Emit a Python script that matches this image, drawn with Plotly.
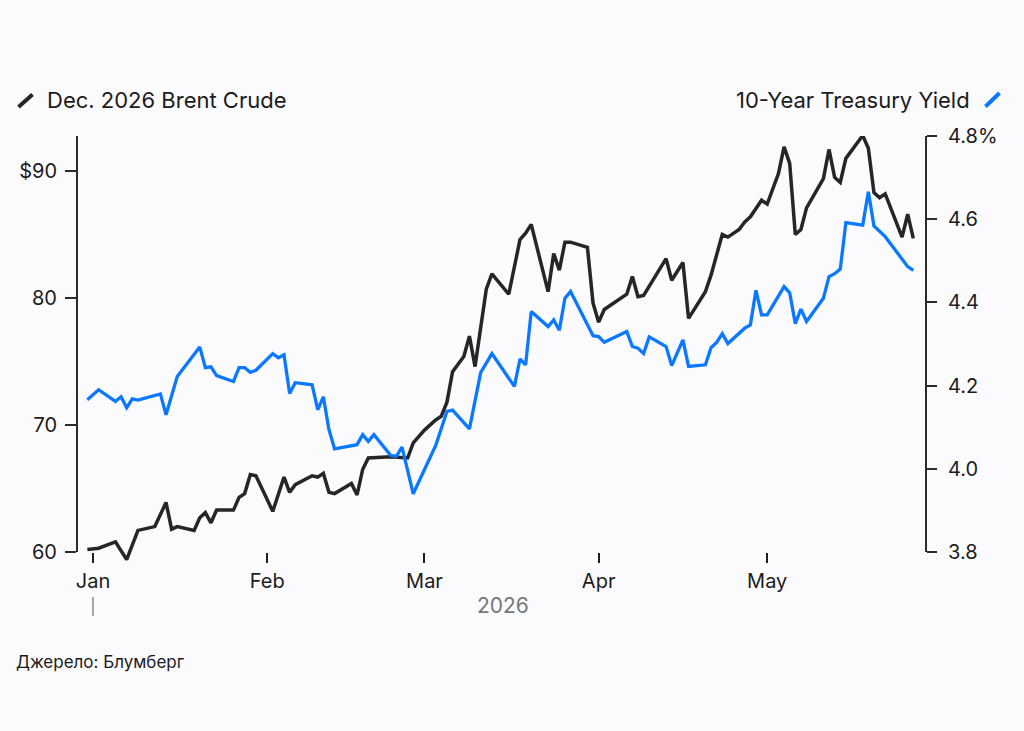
import plotly.graph_objects as go

# ---------------- data ----------------
brent_dates = [
    "2025-12-31",
    "2026-01-02", "2026-01-05", "2026-01-07", "2026-01-09", "2026-01-12", "2026-01-14",
    "2026-01-15", "2026-01-16", "2026-01-19", "2026-01-20", "2026-01-21", "2026-01-22",
    "2026-01-23", "2026-01-26", "2026-01-27", "2026-01-28", "2026-01-29", "2026-01-30",
    "2026-02-02", "2026-02-04", "2026-02-05", "2026-02-06", "2026-02-09", "2026-02-10",
    "2026-02-11", "2026-02-12", "2026-02-13", "2026-02-16", "2026-02-17", "2026-02-18",
    "2026-02-19", "2026-02-23", "2026-02-26", "2026-02-27",
    "2026-03-01", "2026-03-03", "2026-03-04", "2026-03-05", "2026-03-06", "2026-03-08",
    "2026-03-09", "2026-03-10", "2026-03-12", "2026-03-13", "2026-03-16", "2026-03-18",
    "2026-03-19", "2026-03-20", "2026-03-23", "2026-03-24", "2026-03-25", "2026-03-26",
    "2026-03-27", "2026-03-30", "2026-03-31",
    "2026-04-01", "2026-04-02", "2026-04-06", "2026-04-07", "2026-04-08", "2026-04-09",
    "2026-04-13", "2026-04-14", "2026-04-16", "2026-04-17", "2026-04-20", "2026-04-21",
    "2026-04-23", "2026-04-24", "2026-04-26", "2026-04-27", "2026-04-28", "2026-04-30",
    "2026-05-01", "2026-05-03", "2026-05-04", "2026-05-05", "2026-05-06", "2026-05-07",
    "2026-05-08", "2026-05-11", "2026-05-12", "2026-05-13", "2026-05-14", "2026-05-15",
    "2026-05-18", "2026-05-19", "2026-05-20", "2026-05-21", "2026-05-22", "2026-05-25",
    "2026-05-26", "2026-05-27",
]
brent_values = [
    60.2,
    60.3, 60.8, 59.4, 61.7, 62.0, 63.9,
    61.8, 62.0, 61.7, 62.7, 63.1, 62.3,
    63.3, 63.3, 64.3, 64.6, 66.1, 66.0,
    63.2, 65.9, 64.7, 65.3, 66.0, 65.9,
    66.2, 64.7, 64.6, 65.4, 64.5, 66.5,
    67.4, 67.5, 67.4, 68.6,
    69.6, 70.4, 70.7, 71.8, 74.2, 75.4,
    77.0, 74.6, 80.7, 81.9, 80.3, 84.6,
    85.1, 85.8, 80.5, 83.5, 82.2, 84.4,
    84.4, 84.0, 79.6,
    78.1, 79.1, 80.3, 81.7, 80.1, 80.2,
    83.1, 81.4, 82.8, 78.4, 80.5, 81.8,
    85.0, 84.8, 85.4, 86.0, 86.4, 87.7,
    87.4, 89.8, 91.9, 90.6, 85.0, 85.4,
    87.1, 89.4, 91.7, 89.5, 89.1, 91.0,
    92.8, 91.8, 88.3, 87.9, 88.2, 84.8,
    86.6, 84.7,
]

yield_dates = [
    "2025-12-31",
    "2026-01-02", "2026-01-05", "2026-01-06", "2026-01-07", "2026-01-08", "2026-01-09",
    "2026-01-13", "2026-01-14", "2026-01-15", "2026-01-16", "2026-01-20", "2026-01-21",
    "2026-01-22", "2026-01-23", "2026-01-26", "2026-01-27", "2026-01-28", "2026-01-29",
    "2026-01-30",
    "2026-02-02", "2026-02-03", "2026-02-04", "2026-02-05", "2026-02-06", "2026-02-09",
    "2026-02-10", "2026-02-11", "2026-02-12", "2026-02-13", "2026-02-17", "2026-02-18",
    "2026-02-19", "2026-02-20", "2026-02-23", "2026-02-24", "2026-02-25", "2026-02-27",
    "2026-03-02", "2026-03-03", "2026-03-05", "2026-03-06", "2026-03-09", "2026-03-11",
    "2026-03-13", "2026-03-17", "2026-03-18", "2026-03-19", "2026-03-20", "2026-03-23",
    "2026-03-24", "2026-03-25", "2026-03-26", "2026-03-27", "2026-03-31",
    "2026-04-01", "2026-04-02", "2026-04-06", "2026-04-07", "2026-04-08", "2026-04-09",
    "2026-04-10", "2026-04-13", "2026-04-14", "2026-04-16", "2026-04-17", "2026-04-20",
    "2026-04-21", "2026-04-22", "2026-04-23", "2026-04-24", "2026-04-27", "2026-04-28",
    "2026-04-29", "2026-04-30",
    "2026-05-01", "2026-05-04", "2026-05-05", "2026-05-06", "2026-05-07", "2026-05-08",
    "2026-05-11", "2026-05-12", "2026-05-13", "2026-05-14", "2026-05-15", "2026-05-18",
    "2026-05-19", "2026-05-20", "2026-05-22", "2026-05-26", "2026-05-27",
]
yield_values = [
    4.166,
    4.190, 4.162, 4.173, 4.147, 4.168, 4.165,
    4.180, 4.130, 4.174, 4.222, 4.293, 4.243,
    4.245, 4.224, 4.210, 4.243, 4.243, 4.232,
    4.237,
    4.277, 4.267, 4.274, 4.181, 4.207, 4.202,
    4.142, 4.173, 4.094, 4.048, 4.058, 4.082,
    4.066, 4.082, 4.032, 4.030, 4.052, 3.940,
    4.029, 4.056, 4.138, 4.141, 4.096, 4.231,
    4.277, 4.198, 4.264, 4.250, 4.378, 4.342,
    4.358, 4.333, 4.410, 4.426, 4.320,
    4.318, 4.304, 4.330, 4.294, 4.290, 4.277,
    4.317, 4.294, 4.248, 4.310, 4.246, 4.250,
    4.291, 4.304, 4.325, 4.301, 4.338, 4.346,
    4.429, 4.370,
    4.370, 4.438, 4.423, 4.349, 4.384, 4.354,
    4.410, 4.462, 4.469, 4.480, 4.592, 4.586,
    4.666, 4.584, 4.558, 4.486, 4.477,
]

month_ticks = ["2026-01-01", "2026-02-01", "2026-03-01", "2026-04-01", "2026-05-01"]
month_labels = ["Jan", "Feb", "Mar", "Apr", "May"]
left_ticks = [60, 70, 80, 90]
left_labels = ["60", "70", "80", "$90"]
right_ticks = [3.8, 4.0, 4.2, 4.4, 4.6, 4.8]
right_labels = ["3.8", "4.0", "4.2", "4.4", "4.6", "4.8%"]

brent_name = "Dec. 2026 Brent Crude"
yield_name = "10-Year Treasury Yield"
source_text = "Джерело: Блумберг"
year_text = "2026"

# ---------------- layout constants ----------------
W, H = 1024, 731
ML, MR, MT, MB = 78, 99, 136, 150
PW = W - ML - MR
PH = H - MT - MB
PLOT_BOTTOM = H - MB          # bottom of the (extended) drawing area
AXIS_BOTTOM = 552             # where the visible axes end
X_RANGE = ["2025-12-29 08:00", "2026-05-29 02:00"]
LEFT_RANGE = [60, 92.76]
RIGHT_RANGE = [3.8, 4.8]

def px(x):
    return (x - ML) / PW

def py(y):
    return (PLOT_BOTTOM - y) / PH

AX_DOMAIN = [py(AXIS_BOTTOM), 1]
units_per_px = (LEFT_RANGE[1] - LEFT_RANGE[0]) / (AXIS_BOTTOM - MT)
brent_range = [LEFT_RANGE[0] - (PLOT_BOTTOM - AXIS_BOTTOM) * units_per_px, LEFT_RANGE[1]]

BG = "#fbfafd"
INK = "#1c1c1c"
AX = "#2b2b2b"
BLACK = "#262626"
BLUE = "#0a78ff"
FONT = "Inter, Roboto, Arial, sans-serif"

fig = go.Figure()
# blue yield line on its own subplot (x3 / y2, right-hand axis)
fig.add_trace(go.Scatter(
    x=yield_dates, y=yield_values, mode="lines", name=yield_name,
    line=dict(color=BLUE, width=3.3), xaxis="x3", yaxis="y2", hoverinfo="x+y",
))
# Brent line on an invisible axis of identical scale that extends a bit lower,
# so dips under $60 are not clipped (as in the reference)
fig.add_trace(go.Scatter(
    x=brent_dates, y=brent_values, mode="lines", name=brent_name,
    line=dict(color=BLACK, width=3.5), xaxis="x2", yaxis="y3", hoverinfo="x+y",
))

axis_font = dict(family=FONT, size=20, color=INK)

fig.update_layout(
    width=W, height=H,
    margin=dict(l=ML, r=MR, t=MT, b=MB, pad=0),
    paper_bgcolor=BG, plot_bgcolor="rgba(0,0,0,0)",
    showlegend=False,
    font=dict(family=FONT, color=INK),
    # visible month axis + left price axis
    xaxis=dict(
        type="date", range=X_RANGE, domain=[0, 1], anchor="y",
        tickmode="array", tickvals=month_ticks, ticktext=month_labels,
        ticks="outside", ticklen=10, tickwidth=1.5, tickcolor=INK,
        showline=False, showgrid=False, zeroline=False,
        tickfont=axis_font, ticklabelstandoff=1,
    ),
    yaxis=dict(
        range=LEFT_RANGE, domain=AX_DOMAIN, anchor="x",
        tickmode="array", tickvals=left_ticks, ticktext=left_labels,
        ticks="outside", ticklen=11, tickwidth=2, tickcolor=AX,
        showline=True, linecolor=AX, linewidth=2,
        showgrid=False, zeroline=False,
        tickfont=axis_font, ticklabelstandoff=4,
    ),
    # right yield axis
    xaxis3=dict(type="date", range=X_RANGE, domain=[0, 1], anchor="y2", visible=False),
    yaxis2=dict(
        range=RIGHT_RANGE, domain=AX_DOMAIN, side="right", anchor="x3",
        tickmode="array", tickvals=right_ticks, ticktext=right_labels,
        ticks="outside", ticklen=10, tickwidth=2, tickcolor=AX,
        showline=True, linecolor=AX, linewidth=2,
        showgrid=False, zeroline=False,
        tickfont=axis_font, ticklabelstandoff=7,
    ),
    # invisible extended axes for the Brent line
    xaxis2=dict(type="date", range=X_RANGE, domain=[0, 1], anchor="y3", visible=False),
    yaxis3=dict(range=brent_range, domain=[0, 1], anchor="x2", visible=False),
)

# legend-like headers with slash icons
fig.add_shape(type="line", xref="paper", yref="paper",
              x0=px(18.5), y0=py(107), x1=px(32.5), y1=py(94.5),
              line=dict(color=BLACK, width=4))
fig.add_shape(type="line", xref="paper", yref="paper",
              x0=px(985.5), y0=py(106.5), x1=px(999.5), y1=py(93),
              line=dict(color=BLUE, width=4))
fig.add_annotation(xref="paper", yref="paper", x=px(45), y=py(99.5),
                   text=brent_name, showarrow=False, xanchor="left", yanchor="middle",
                   font=dict(family=FONT, size=22, color=INK))
fig.add_annotation(xref="paper", yref="paper", x=px(972), y=py(99.5),
                   text=yield_name, showarrow=False, xanchor="right", yanchor="middle",
                   font=dict(family=FONT, size=22, color=INK))

# year marker under Jan
fig.add_shape(type="line", xref="x", yref="paper",
              x0=month_ticks[0], x1=month_ticks[0], y0=py(597), y1=py(616),
              line=dict(color="#8a8a8a", width=1.5))
fig.add_annotation(xref="paper", yref="paper", x=px(503), y=py(605),
                   text=year_text, showarrow=False, xanchor="center", yanchor="middle",
                   font=dict(family=FONT, size=21, color="#777777"))

# source
fig.add_annotation(xref="paper", yref="paper", x=px(14), y=py(662),
                   text=source_text, showarrow=False, xanchor="left", yanchor="middle",
                   font=dict(family=FONT, size=17, color=INK))

fig.write_html("out.html")
